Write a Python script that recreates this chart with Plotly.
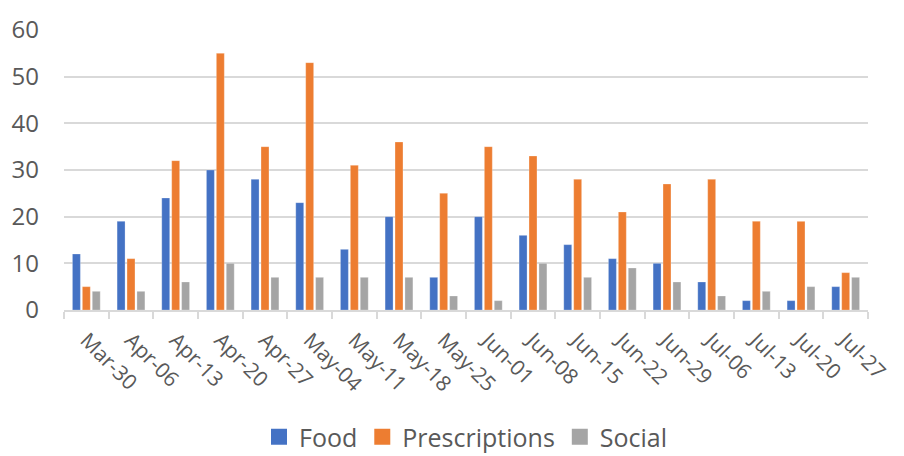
import plotly.graph_objects as go

weeks = ["Mar-30", "Apr-06", "Apr-13", "Apr-20", "Apr-27", "May-04", "May-11", "May-18",
         "May-25", "Jun-01", "Jun-08", "Jun-15", "Jun-22", "Jun-29", "Jul-06", "Jul-13",
         "Jul-20", "Jul-27"]
food = [12, 19, 24, 30, 28, 23, 13, 20, 7, 20, 16, 14, 11, 10, 6, 2, 2, 5]
prescriptions = [5, 11, 32, 55, 35, 53, 31, 36, 25, 35, 33, 28, 21, 27, 28, 19, 19, 8]
social = [4, 4, 6, 10, 7, 7, 7, 7, 3, 2, 10, 7, 9, 6, 3, 4, 5, 7]

series = [("Food", food, "#4472C4"),
          ("Prescriptions", prescriptions, "#ED7D31"),
          ("Social", social, "#A5A5A5")]

FONT = "Open Sans"
TXT = "#595959"

fig = go.Figure()
for name, vals, col in series:
    fig.add_trace(go.Bar(x=weeks, y=vals, name=name, showlegend=False,
                         marker=dict(color=col, line=dict(color="rgba(255,255,255,0.5)", width=0.5))))
# legend entries with larger square swatches
for name, vals, col in series:
    fig.add_trace(go.Scatter(x=[None], y=[None], mode="markers", name=name,
                             marker=dict(symbol="square", size=16, color=col)))

fig.update_layout(
    width=904, height=456,
    margin=dict(l=63, r=32, t=18, b=146),
    paper_bgcolor="white", plot_bgcolor="white",
    barmode="group", bargap=1/3, bargroupgap=0.2,
    font=dict(family=FONT, color=TXT),
    legend=dict(orientation="h", x=0.5, xanchor="center", y=1 - 437/456, yanchor="middle",
                yref="container", itemwidth=30, tracegroupgap=0,
                font=dict(size=25, color=TXT, family=FONT)),
    showlegend=True,
)
fig.update_yaxes(range=[0, 60], dtick=10, showgrid=True, gridcolor="#D9D9D9", gridwidth=1.5,
                 zeroline=False, showline=False, ticks="", ticklabelstandoff=24,
                 tickfont=dict(size=24, color=TXT, family=FONT))
fig.update_xaxes(showline=True, linecolor="#D9D9D9", linewidth=1.5, ticks="outside",
                 tickson="boundaries", ticklen=7, tickcolor="#D9D9D9", tickwidth=1.5,
                 tickangle=45, ticklabelstandoff=8,
                 tickfont=dict(size=21, color=TXT, family=FONT), showgrid=False)

fig.write_html("out.html")
